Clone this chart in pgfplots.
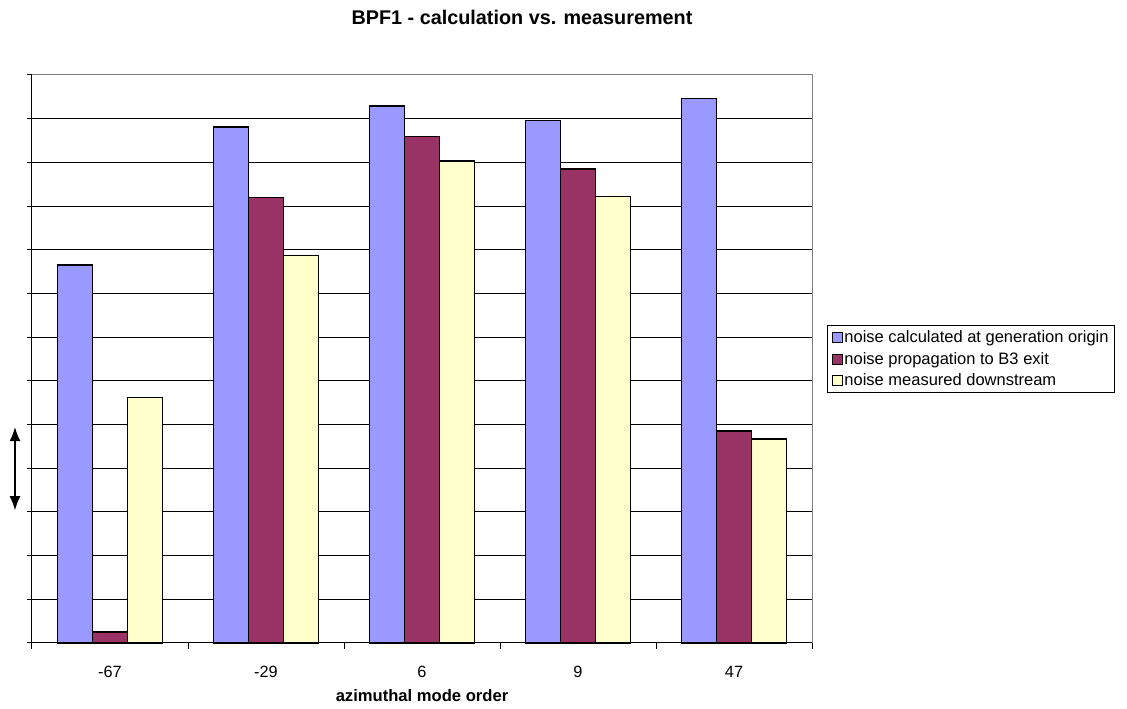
\documentclass[border=0pt]{standalone}
\usepackage{pgfplots}
\pgfplotsset{compat=1.18}
\usepackage{fontspec}
\setmainfont{Liberation Sans}
\usetikzlibrary{arrows.meta}
\definecolor{cblue}{HTML}{9999FF}
\definecolor{cpurple}{HTML}{993366}
\definecolor{cyellow}{HTML}{FFFFCC}
\begin{document}
\begin{tikzpicture}[x=1pt,y=1pt]
\useasboundingbox (-32,-66) rectangle (1095,643);
\begin{axis}[
  at={(0,0)}, anchor=south west,
  scale only axis, width=780pt, height=568pt,
  xmin=-0.5, xmax=4.5, ymin=0, ymax=13,
  axis line style={draw=gray, line width=1pt},
  xtick={0,1,2,3,4},
  xticklabels={-67,-29,6,9,47},
  major x tick style={draw=none},
  minor xtick={-0.5,0.5,1.5,2.5,3.5,4.5},
  minor x tick style={black, line width=1pt},
  minor tick length=6pt,
  ytick={1,...,12},
  extra y ticks={0,13},
  extra y tick style={grid=none},
  yticklabels={}, extra y tick labels={},
  y tick style={black, line width=1pt},
  major tick length=5pt,
  tick align=outside,
  tick pos=left,
  ymajorgrids,
  major grid style={black, line width=1pt},
  xticklabel style={font=\fontsize{16.3}{19}\selectfont, anchor=center, yshift=-24pt},
  xlabel={\textbf{azimuthal mode order}},
  xlabel style={at={(axis description cs:0.5,0)}, anchor=center, yshift=-53pt, font=\fontsize{16.6}{19}\selectfont},
  ybar, bar width=0.2244,
  clip=false,
  legend style={at={(rel axis cs:1,0.5)}, anchor=west, xshift=15pt, draw=black, line width=1pt,
    font=\fontsize{16.5}{19}\selectfont, row sep=4pt, inner xsep=4pt, inner ysep=3pt},
  legend cell align=left,
  legend image code/.code={\draw[#1, draw=black, line width=0.9pt] (0pt,-5pt) rectangle (10pt,5pt);},
]
\addplot[fill=cblue, draw=black, line width=1.2pt, bar shift=-0.2244] coordinates {(0,8.65) (1,11.81) (2,12.29) (3,11.95) (4,12.47)};
\addplot[fill=cpurple, draw=black, line width=1.2pt, bar shift=0] coordinates {(0,0.25) (1,10.19) (2,11.60) (3,10.85) (4,4.85)};
\addplot[fill=cyellow, draw=black, line width=1.2pt, bar shift=0.2244] coordinates {(0,5.61) (1,8.86) (2,11.03) (3,10.21) (4,4.67)};
\legend{noise calculated at generation origin, noise propagation to B3 exit, noise measured downstream}
\draw[black, line width=1pt] (rel axis cs:0,0) -- (rel axis cs:0,1);
\draw[black, line width=1pt] (rel axis cs:0,0) -- (rel axis cs:1,0);
\draw[{Latex[length=14pt,width=11pt]}-{Latex[length=14pt,width=11pt]}, line width=1.3pt] (axis cs:-0.609,3.04) -- (axis cs:-0.609,4.94);
\end{axis}
\node[font=\bfseries\fontsize{19.8}{22}\selectfont] at (490,626) {BPF1 - calculation vs. measurement};
\end{tikzpicture}
\end{document}
